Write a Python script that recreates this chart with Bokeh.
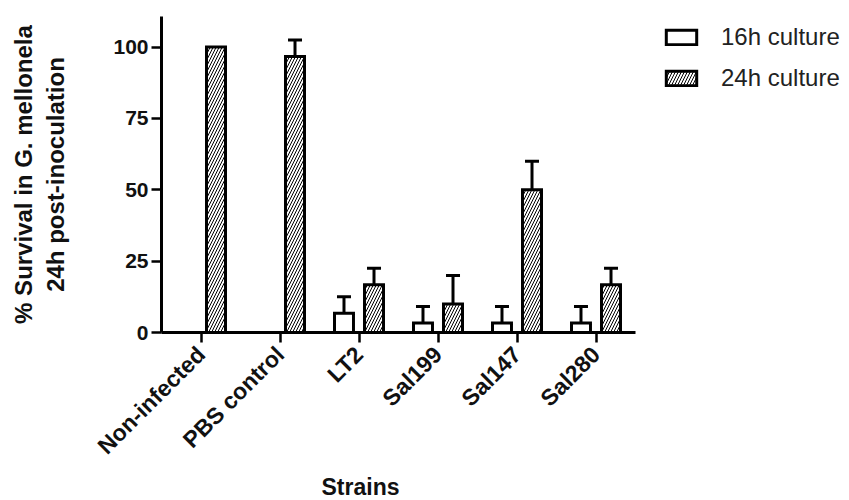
import math
from bokeh.plotting import figure
from bokeh.models import (ColumnDataSource, Range1d, FixedTicker, Whisker,
                          TeeHead, Legend, LegendItem, Title)
from bokeh.embed import file_html
from bokeh.resources import INLINE

# ---- data ----
strains = ["Non-infected", "PBS control", "LT2", "Sal199", "Sal147", "Sal280"]
h16 = [0, 0, 6.7, 3.3, 3.3, 3.3]
h16_err = [0, 0, 5.8, 5.8, 5.8, 5.8]
h24 = [100, 96.7, 16.7, 10, 50, 16.7]
h24_err = [0, 5.8, 5.8, 10, 10, 5.8]
series_names = ["16h culture", "24h culture"]
y_ticks = [0, 25, 50, 75, 100]

FONT = "Liberation Sans"
OFF = 0.19
BW = 0.24
n = len(strains)
centers = [i + 0.5 for i in range(n)]

p = figure(width=849, height=500, output_backend="svg", toolbar_location=None,
           x_range=Range1d(0, n + 214 / 79.0),
           y_range=Range1d(0, 110.7),
           min_border_left=161, min_border_right=0, min_border_top=16, min_border_bottom=168)
p.background_fill_color = "white"
p.border_fill_color = "white"
p.outline_line_color = None
p.xgrid.grid_line_color = None
p.ygrid.grid_line_color = None

src16 = ColumnDataSource(dict(x=[c - OFF for c in centers], value=h16))
src24 = ColumnDataSource(dict(x=[c + OFF for c in centers], value=h24))

r16 = p.vbar(x="x", top="value", width=BW, source=src16,
             fill_color="white", line_color="black", line_width=3, line_join="miter")
r24 = p.vbar(x="x", top="value", width=BW, source=src24,
             fill_color="white", line_color="black", line_width=3, line_join="miter",
             hatch_pattern="/", hatch_color="black", hatch_weight=1, hatch_scale=6)

def err_source(vals, errs, off):
    xs = [c + off for c, e in zip(centers, errs) if e > 0]
    lo = [v for v, e in zip(vals, errs) if e > 0]
    up = [v + e for v, e in zip(vals, errs) if e > 0]
    return ColumnDataSource(dict(x=xs, lower=lo, upper=up))

for vals, errs, off in [(h16, h16_err, -OFF), (h24, h24_err, OFF)]:
    w = Whisker(base="x", lower="lower", upper="upper",
                source=err_source(vals, errs, off), dimension="height",
                line_color="black", line_width=3, level="overlay",
                upper_head=TeeHead(size=14, line_width=3, line_color="black"),
                lower_head=None)
    p.add_layout(w)

# axes
for ax in (p.xaxis, p.yaxis):
    ax.axis_line_width = 3
    ax.axis_line_color = "black"
    ax.major_tick_line_width = 2.5
    ax.major_tick_line_color = "black"
    ax.major_tick_in = 0
    ax.minor_tick_line_color = None
    ax.major_label_text_font = FONT
    ax.major_label_text_font_style = "bold"
    ax.major_label_text_color = "#111111"

p.yaxis.ticker = FixedTicker(ticks=y_ticks)
p.yaxis.major_tick_out = 10
p.yaxis.major_label_standoff = 3
p.yaxis.major_label_text_font_size = "21px"
p.yaxis.axis_label = "% Survival in G. mellonela\n24h post-inoculation"
p.yaxis.axis_label_text_font = FONT
p.yaxis.axis_label_text_font_style = "bold"
p.yaxis.axis_label_text_font_size = "24px"
p.yaxis.axis_label_text_color = "#111111"
p.yaxis.axis_label_standoff = 41

p.xaxis.bounds = (0, n)
p.xaxis.ticker = FixedTicker(ticks=centers)
p.xaxis.major_label_overrides = {c: s for c, s in zip(centers, strains)}
p.xaxis.major_tick_out = 10
p.xaxis.major_label_standoff = 8
p.xaxis.major_label_orientation = math.pi / 4
p.xaxis.major_label_text_font_size = "23px"

p.add_layout(Title(text="Strains", align="left", offset=160, standoff=0,
                   text_font=FONT, text_font_style="bold", text_font_size="23px",
                   text_color="#111111"), "below")

legend = Legend(items=[LegendItem(label=series_names[0], renderers=[r16]),
                       LegendItem(label=series_names[1], renderers=[r24])],
                location=(501, 240), padding=0, margin=0, spacing=13,
                glyph_width=38, glyph_height=18, label_height=25, label_standoff=21,
                label_text_font=FONT, label_text_font_size="24px", label_text_color="#222222",
                border_line_color=None, background_fill_alpha=0)
p.add_layout(legend, "center")

open("out.html", "w").write(file_html(p, INLINE))
